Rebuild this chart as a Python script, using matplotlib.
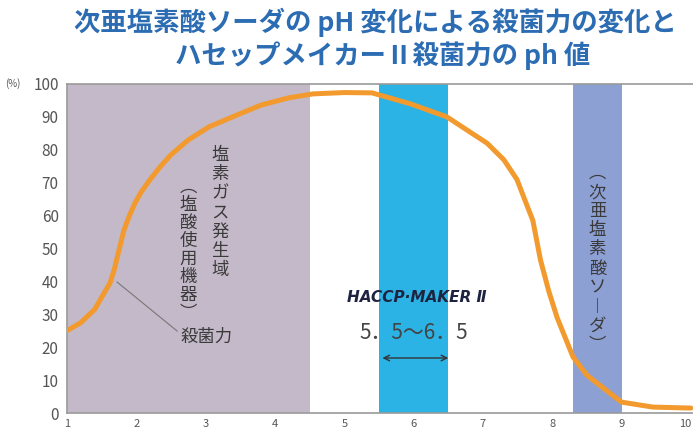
import matplotlib
matplotlib.use('Agg')
import matplotlib.pyplot as plt

plt.rcParams['font.family'] = ['Noto Sans CJK JP', 'DejaVu Sans']

# Data
ph = [1.0, 1.2, 1.4, 1.55, 1.62, 1.68, 1.75, 1.82, 1.9, 1.98, 2.07, 2.2, 2.35,
      2.5, 2.75, 3.05, 3.5, 3.8, 4.2, 4.55, 5.0, 5.4, 5.95, 6.48, 7.06, 7.3,
      7.49, 7.6, 7.72, 7.83, 7.95, 8.07, 8.3, 8.5, 8.65, 9.0, 9.45, 10.0]
kill_rate = [25, 27.5, 31.5, 37, 39.5, 43.5, 49.5, 55.5, 60, 63.8, 67.2, 71, 75,
             78.5, 83, 87, 91, 93.6, 95.8, 97, 97.4, 97.3, 94, 90, 82, 77,
             71, 65, 58.5, 46.5, 37, 29, 17, 11.5, 9, 3.3, 1.8, 1.5]

bands = [(1.0, 4.5, '#c4b9c9'), (5.5, 6.5, '#2bb3e6'), (8.3, 9.0, '#8da0d4')]
xticks = list(range(1, 11))
yticks = list(range(0, 101, 10))

title1 = '次亜塩素酸ソーダの pH 変化による殺菌力の変化と'
title2 = 'ハセップメイカーⅡ殺菌力の ph 値'

W, H = 693, 438
fig = plt.figure(figsize=(W / 100, H / 100), dpi=100)
ax = fig.add_axes([67 / W, 25 / H, 626 / W, 329 / H])


def px(x):
    return 1 + (x - 67) / 69.3


def py(y):
    return (413 - y) / 3.29


for x0, x1, c in bands:
    ax.axvspan(x0, x1, color=c, lw=0, zorder=0)

ax.plot(ph, kill_rate, color='#f29a2e', lw=3.6, solid_capstyle='round',
        solid_joinstyle='round', zorder=3)

ax.set_xlim(1, 10.03)
ax.set_ylim(0, 100)
ax.set_xticks(xticks)
ax.set_yticks(yticks)
ax.tick_params(axis='both', length=0, colors='#555555')
ax.tick_params(axis='y', labelsize=11, pad=6)
ax.tick_params(axis='x', labelsize=8, pad=4)
ax.get_xticklabels()[-1].set_ha('right')
ax.spines['right'].set_visible(False)
for side in ['left', 'bottom', 'top']:
    ax.spines[side].set_color('#9a9a9a')
    ax.spines[side].set_linewidth(1.2)

# titles
tc = '#2b6cb3'
fig.text(375 / W, 1 - 22 / H, title1, ha='center', va='center',
         fontsize=19, fontweight='bold', color=tc)
fig.text(383 / W, 1 - 56 / H, title2, ha='center', va='center',
         fontsize=19, fontweight='bold', color=tc)
fig.text(5 / W, 1 - 84 / H, '(%)', ha='left', va='center', fontsize=7,
         color='#555555')

# vertical labels in the purple band
txt = '#3a3a3a'
ax.text(px(220), py(146), '\n'.join('塩素ガス発生域'),
        ha='center', va='top', fontsize=12.5, color=txt, linespacing=1.08)
ax.text(px(188), py(178), '\n'.join('︵塩酸使用機器︶'),
        ha='center', va='top', fontsize=12.5, color=txt, linespacing=1.0)

# label for the curve with leader line
ax.annotate('殺菌力', xy=(px(117), py(282)), xytext=(px(180), py(337)),
            ha='left', va='center', fontsize=12.5, color=txt,
            arrowprops=dict(arrowstyle='-', color='#777777', lw=0.8,
                            shrinkA=0, shrinkB=0, relpos=(0, 0.7)))

# HACCP MAKER label
ax.text(px(417), py(297), 'HACCP·MAKER Ⅱ',
        ha='center', va='center', fontsize=11, fontweight='bold',
        fontstyle='italic', family='DejaVu Sans', color='#1d2340')
ax.text(6.0, py(333), '5．5～6．5', ha='center', va='center',
        fontsize=15, color='#444444')
ax.annotate('', xy=(5.55, py(358)), xytext=(6.5, py(358)),
            arrowprops=dict(arrowstyle='<->', color='#333333', lw=1.0,
                            shrinkA=0, shrinkB=0))

# vertical label in the right band
ax.text(8.65, py(164), '\n'.join(['︵', '次', '亜', '塩', '素', '酸', 'ソ', '︱', 'ダ', '︶']),
        ha='center', va='top', fontsize=12.5, color=txt, linespacing=1.08)

fig.savefig('out.png', dpi=100)
